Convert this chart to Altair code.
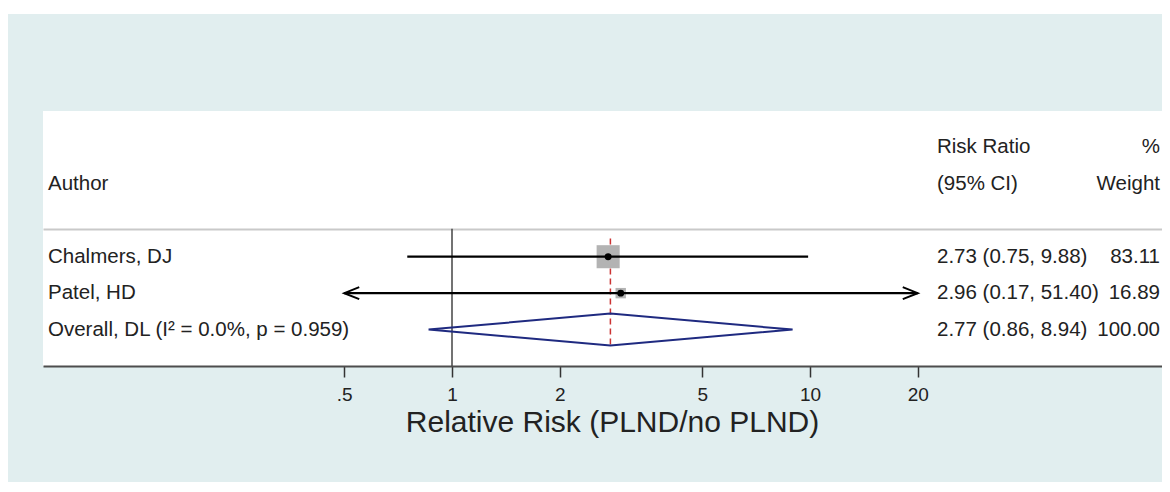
import altair as alt
import pandas as pd

# ---------------- data ----------------
authors = ["Chalmers, DJ", "Patel, HD"]
rr = [2.73, 2.96]
ci_low = [0.75, 0.17]
ci_high = [9.88, 51.40]
weights = [83.11, 16.89]

overall_label = "Overall, DL (I\u00b2 = 0.0%, p = 0.959)"
overall_rr = 2.77
overall_low = 0.86
overall_high = 8.94
overall_weight = 100.00

tick_values = [0.5, 1, 2, 5, 10, 20]
axis_min, axis_max = 0.5, 20

header_author = "Author"
header_rr = ["Risk Ratio", "(95% CI)"]
header_wt = ["%", "Weight"]
x_title = "Relative Risk (PLND/no PLND)"

# ---------------- layout / style ----------------
FONT = "Liberation Sans, Arial, sans-serif"
TXT = "#222222"
LIGHT = "#e1eeef"
PAD_L, PAD_T, PAD_B = 35, 103, 116
W, H = 1119, 255
ONE_PX, DECADE_PX = 409, 358          # pixel of RR=1 inside the view, pixels per decade
x_dom = [10 ** (-ONE_PX / DECADE_PX), 10 ** ((W - ONE_PX) / DECADE_PX)]
first_row = 4
sep_row = 3.23
FS = 20.5

xs = alt.Scale(type="log", domain=x_dom, nice=False)
ys = alt.Scale(domain=[0, 7], reverse=True, nice=False, zero=False)
x_axis = alt.Axis(values=tick_values, grid=False, domainColor="#4d4d4d", domainWidth=2,
                  tickColor="#333333", tickWidth=1.5, tickSize=11,
                  labelFont=FONT, labelFontSize=19, labelColor=TXT, labelPadding=8,
                  labelExpr="datum.value == 0.5 ? '.5' : format(datum.value, 'd')",
                  title=x_title, titleFont=FONT, titleFontSize=30, titleFontWeight="normal",
                  titleColor=TXT, titlePadding=3, titleX=569, titleAlign="center")
y_axis = alt.Axis(values=[sep_row], grid=True, gridColor="#c9c9c9", gridWidth=2,
                  domain=False, ticks=False, labels=False, title=None)


def X(f):
    return alt.X(f, type="quantitative", scale=xs, axis=x_axis)


def Y(f):
    return alt.Y(f, type="quantitative", scale=ys, axis=y_axis)


# ---------------- tables ----------------
n = len(authors)
studies = pd.DataFrame({"author": authors, "x": rr, "lo": ci_low, "hi": ci_high, "w": weights})
studies["y"] = [first_row + i for i in range(n)]
studies["lo_c"] = studies["lo"].clip(lower=axis_min)
studies["hi_c"] = studies["hi"].clip(upper=axis_max)

overall_row = first_row + n
table = pd.DataFrame({
    "label": authors + [overall_label],
    "rr_txt": [f"{a:.2f} ({b:.2f}, {c:.2f})" for a, b, c in zip(rr, ci_low, ci_high)]
              + [f"{overall_rr:.2f} ({overall_low:.2f}, {overall_high:.2f})"],
    "w_txt": [f"{w:.2f}" for w in weights] + [f"{overall_weight:.2f}"],
    "y": list(studies["y"]) + [overall_row],
})

headers = pd.DataFrame({"y": [1, 2], "rr_h": header_rr, "wt_h": header_wt,
                        "au_h": ["", header_author]})

half = 0.44
diamond = pd.DataFrame({
    "ord": [0, 1, 2, 3, 4],
    "x": [overall_low, overall_rr, overall_high, overall_rr, overall_low],
    "y": [overall_row, overall_row - half, overall_row, overall_row + half, overall_row],
})

null_line = pd.DataFrame({"x": [1.0], "y": [sep_row], "y2": [7.0]})
ov_line = pd.DataFrame({"x": [overall_rr], "y": [first_row - 0.5], "y2": [overall_row + 0.5]})

left_arr = studies[studies["lo"] < axis_min].assign(x=axis_min)
right_arr = studies[studies["hi"] > axis_max].assign(x=axis_max)

# ---------------- layers ----------------
# thin white strip above the tinted graph region (decoration)
top_strip = alt.Chart(pd.DataFrame({"d": [0]})).mark_rect(color="white").encode(
    x=alt.value(-PAD_L), x2=alt.value(W), y=alt.value(-PAD_T), y2=alt.value(-PAD_T + 6))

null_rule = alt.Chart(null_line).mark_rule(color="#444444", strokeWidth=1.5).encode(
    x=X("x"), y=Y("y"), y2="y2")

ov_rule = alt.Chart(ov_line).mark_rule(color="#cc3333", strokeWidth=1.5, strokeDash=[6, 4]).encode(
    x=X("x"), y=Y("y"), y2="y2")

squares = alt.Chart(studies).mark_square(color="#b3b3b3", opacity=1).encode(
    x=X("x"), y=Y("y"),
    size=alt.Size("w:Q", scale=alt.Scale(domain=[0, 100], range=[0, 640]), legend=None))

ci = alt.Chart(studies).mark_rule(color="black", strokeWidth=2.2).encode(
    x=X("lo_c"), x2="hi_c", y=Y("y"))

arr_l = alt.Chart(left_arr).mark_point(shape="M 2.5 -1 L 0 0 L 2.5 1", filled=False,
                                       color="black", strokeWidth=2, size=144, opacity=1).encode(
    x=X("x"), y=Y("y"))
arr_r = alt.Chart(right_arr).mark_point(shape="M -2.5 -1 L 0 0 L -2.5 1", filled=False,
                                        color="black", strokeWidth=2, size=144, opacity=1).encode(
    x=X("x"), y=Y("y"))

dots = alt.Chart(studies).mark_circle(color="black", size=48, opacity=1).encode(
    x=X("x"), y=Y("y"))

dia = alt.Chart(diamond).mark_line(color="#1f2a80", strokeWidth=2).encode(
    x=X("x"), y=Y("y"), order="ord:Q")

txt_kw = dict(baseline="middle", fontSize=FS, font=FONT, color=TXT)
COL_L, COL_RR, COL_W = 5, 894, 1117
lab = alt.Chart(table).mark_text(align="left", **txt_kw).encode(
    x=alt.value(COL_L), y=Y("y"), text="label:N")
rrt = alt.Chart(table).mark_text(align="left", **txt_kw).encode(
    x=alt.value(COL_RR), y=Y("y"), text="rr_txt:N")
wtt = alt.Chart(table).mark_text(align="right", **txt_kw).encode(
    x=alt.value(COL_W), y=Y("y"), text="w_txt:N")
h_au = alt.Chart(headers).mark_text(align="left", **txt_kw).encode(
    x=alt.value(COL_L), y=Y("y"), text="au_h:N")
h_rr = alt.Chart(headers).mark_text(align="left", **txt_kw).encode(
    x=alt.value(COL_RR), y=Y("y"), text="rr_h:N")
h_wt = alt.Chart(headers).mark_text(align="right", **txt_kw).encode(
    x=alt.value(COL_W), y=Y("y"), text="wt_h:N")

chart = alt.layer(top_strip, null_rule, ov_rule, squares, ci, arr_l, arr_r, dots, dia,
                  lab, rrt, wtt, h_au, h_rr, h_wt).properties(
    width=W, height=H,
    padding={"left": PAD_L, "top": PAD_T, "right": 0, "bottom": PAD_B},
    autosize=alt.AutoSizeParams(type="none"),
    background=LIGHT,
).configure_view(fill="white", strokeWidth=0)

chart.save("out.html", embed_options={"renderer": "svg", "actions": False})
